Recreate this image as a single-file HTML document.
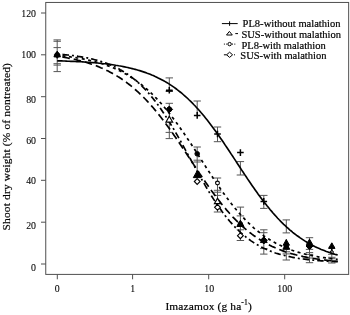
<!DOCTYPE html>
<html><head><meta charset="utf-8"><style>
html,body{margin:0;padding:0;background:#fff;}
svg text{stroke:#000;stroke-width:0.2px;}
svg text.t{stroke-width:0.08px;}
svg{display:block;will-change:transform;opacity:0.999;font-family:"Liberation Serif",serif;fill:#000;}
</style></head><body>
<svg width="350" height="315" viewBox="0 0 350 315">
<rect width="350" height="315" fill="#fff"/>
<defs><filter id="b" x="0" y="0" width="350" height="315" filterUnits="userSpaceOnUse"><feGaussianBlur stdDeviation="0.35"/></filter></defs>
<g filter="url(#b)">
<rect x="45.75" y="2.45" width="302.9" height="271.95" fill="none" stroke="#505050" stroke-width="1"/><line x1="41" y1="13" x2="45.8" y2="13" stroke="#505050" stroke-width="1"/><text x="36" y="16.5" text-anchor="end" font-size="9.9" class="t">120</text><line x1="41" y1="54.8" x2="45.8" y2="54.8" stroke="#505050" stroke-width="1"/><text x="36" y="57.699999999999996" text-anchor="end" font-size="9.9" class="t">100</text><line x1="41" y1="96.7" x2="45.8" y2="96.7" stroke="#505050" stroke-width="1"/><text x="36" y="102.7" text-anchor="end" font-size="9.9" class="t">80</text><line x1="41" y1="138.5" x2="45.8" y2="138.5" stroke="#505050" stroke-width="1"/><text x="36" y="144.3" text-anchor="end" font-size="9.9" class="t">60</text><line x1="41" y1="180.3" x2="45.8" y2="180.3" stroke="#505050" stroke-width="1"/><text x="36" y="184.10000000000002" text-anchor="end" font-size="9.9" class="t">40</text><line x1="41" y1="222.2" x2="45.8" y2="222.2" stroke="#505050" stroke-width="1"/><text x="36" y="228.5" text-anchor="end" font-size="9.9" class="t">20</text><line x1="41" y1="264" x2="45.8" y2="264" stroke="#505050" stroke-width="1"/><text x="36" y="270.7" text-anchor="end" font-size="9.9" class="t">0</text><line x1="57.3" y1="274.4" x2="57.3" y2="279.3" stroke="#505050" stroke-width="1"/><text x="57.3" y="292.3" text-anchor="middle" font-size="9.9" class="t">0</text><line x1="132.6" y1="274.4" x2="132.6" y2="279.3" stroke="#505050" stroke-width="1"/><text x="132.6" y="292.3" text-anchor="middle" font-size="9.9" class="t">1</text><line x1="208.7" y1="274.4" x2="208.7" y2="279.3" stroke="#505050" stroke-width="1"/><text x="209.29999999999998" y="292.3" text-anchor="middle" font-size="9.9" class="t">10</text><line x1="284.7" y1="274.4" x2="284.7" y2="279.3" stroke="#505050" stroke-width="1"/><text x="284.7" y="292.3" text-anchor="middle" font-size="9.9" class="t">100</text><text id="xt" x="165.4" y="309.6" font-size="11.4" letter-spacing="0.14">Imazamox (g ha<tspan dy="-4.4" font-size="7.6">-1</tspan><tspan dy="4.4">)</tspan></text><text id="yt" transform="translate(10.0,230.4) rotate(-90)" font-size="11.4" letter-spacing="0.17">Shoot dry weight (% of nontreated)</text>
<line x1="57.2" y1="39.9" x2="57.2" y2="71.6" stroke="#555" stroke-width="1.0"/><line x1="53.5" y1="39.9" x2="60.900000000000006" y2="39.9" stroke="#555" stroke-width="1.0"/><line x1="53.5" y1="41.3" x2="60.900000000000006" y2="41.3" stroke="#555" stroke-width="1.0"/><line x1="53.5" y1="47.6" x2="60.900000000000006" y2="47.6" stroke="#555" stroke-width="1.0"/><line x1="53.5" y1="63.7" x2="60.900000000000006" y2="63.7" stroke="#555" stroke-width="1.0"/><line x1="53.5" y1="65.1" x2="60.900000000000006" y2="65.1" stroke="#555" stroke-width="1.0"/><line x1="53.5" y1="71.6" x2="60.900000000000006" y2="71.6" stroke="#555" stroke-width="1.0"/><line x1="169.3" y1="77.9" x2="169.3" y2="91.0" stroke="#555" stroke-width="1.0"/><line x1="165.60000000000002" y1="77.9" x2="173.0" y2="77.9" stroke="#555" stroke-width="1.0"/><line x1="165.60000000000002" y1="91.2" x2="173.0" y2="91.2" stroke="#555" stroke-width="1.0"/><line x1="169.3" y1="103.3" x2="169.3" y2="138.6" stroke="#555" stroke-width="1.0"/><line x1="165.60000000000002" y1="103.3" x2="173.0" y2="103.3" stroke="#555" stroke-width="1.0"/><line x1="165.60000000000002" y1="132.4" x2="173.0" y2="132.4" stroke="#555" stroke-width="1.0"/><line x1="165.60000000000002" y1="138.6" x2="173.0" y2="138.6" stroke="#555" stroke-width="1.0"/><line x1="197.2" y1="101" x2="197.2" y2="115" stroke="#555" stroke-width="1.0"/><line x1="193.5" y1="101" x2="200.89999999999998" y2="101" stroke="#555" stroke-width="1.0"/><line x1="197.2" y1="147" x2="197.2" y2="172" stroke="#555" stroke-width="1.0"/><line x1="193.5" y1="147" x2="200.89999999999998" y2="147" stroke="#555" stroke-width="1.0"/><line x1="193.5" y1="160.2" x2="200.89999999999998" y2="160.2" stroke="#555" stroke-width="1.0"/><line x1="193.5" y1="162" x2="200.89999999999998" y2="162" stroke="#555" stroke-width="1.0"/><line x1="217.5" y1="127" x2="217.5" y2="141.7" stroke="#555" stroke-width="1.0"/><line x1="213.8" y1="127" x2="221.2" y2="127" stroke="#555" stroke-width="1.0"/><line x1="213.8" y1="141.7" x2="221.2" y2="141.7" stroke="#555" stroke-width="1.0"/><line x1="217.5" y1="178" x2="217.5" y2="212" stroke="#555" stroke-width="1.0"/><line x1="213.8" y1="178" x2="221.2" y2="178" stroke="#555" stroke-width="1.0"/><line x1="213.8" y1="190.3" x2="221.2" y2="190.3" stroke="#555" stroke-width="1.0"/><line x1="213.8" y1="192.2" x2="221.2" y2="192.2" stroke="#555" stroke-width="1.0"/><line x1="213.8" y1="195.4" x2="221.2" y2="195.4" stroke="#555" stroke-width="1.0"/><line x1="213.8" y1="212" x2="221.2" y2="212" stroke="#555" stroke-width="1.0"/><line x1="240.4" y1="161.6" x2="240.4" y2="175" stroke="#555" stroke-width="1.0"/><line x1="236.70000000000002" y1="161.6" x2="244.1" y2="161.6" stroke="#555" stroke-width="1.0"/><line x1="236.70000000000002" y1="175" x2="244.1" y2="175" stroke="#555" stroke-width="1.0"/><line x1="240.4" y1="207.1" x2="240.4" y2="240.5" stroke="#555" stroke-width="1.0"/><line x1="236.70000000000002" y1="207.1" x2="244.1" y2="207.1" stroke="#555" stroke-width="1.0"/><line x1="236.70000000000002" y1="215.9" x2="244.1" y2="215.9" stroke="#555" stroke-width="1.0"/><line x1="236.70000000000002" y1="229.8" x2="244.1" y2="229.8" stroke="#555" stroke-width="1.0"/><line x1="236.70000000000002" y1="240.5" x2="244.1" y2="240.5" stroke="#555" stroke-width="1.0"/><line x1="263.8" y1="195.4" x2="263.8" y2="208.4" stroke="#555" stroke-width="1.0"/><line x1="260.1" y1="195.4" x2="267.5" y2="195.4" stroke="#555" stroke-width="1.0"/><line x1="260.1" y1="208.4" x2="267.5" y2="208.4" stroke="#555" stroke-width="1.0"/><line x1="263.8" y1="229.8" x2="263.8" y2="254.1" stroke="#555" stroke-width="1.0"/><line x1="260.1" y1="229.8" x2="267.5" y2="229.8" stroke="#555" stroke-width="1.0"/><line x1="260.1" y1="232.7" x2="267.5" y2="232.7" stroke="#555" stroke-width="1.0"/><line x1="260.1" y1="248.6" x2="267.5" y2="248.6" stroke="#555" stroke-width="1.0"/><line x1="260.1" y1="254.1" x2="267.5" y2="254.1" stroke="#555" stroke-width="1.0"/><line x1="286.3" y1="219.9" x2="286.3" y2="232.9" stroke="#555" stroke-width="1.0"/><line x1="282.6" y1="219.9" x2="290.0" y2="219.9" stroke="#555" stroke-width="1.0"/><line x1="282.6" y1="232.9" x2="290.0" y2="232.9" stroke="#555" stroke-width="1.0"/><line x1="286.3" y1="239" x2="286.3" y2="260" stroke="#555" stroke-width="1.0"/><line x1="282.6" y1="251.8" x2="290.0" y2="251.8" stroke="#555" stroke-width="1.0"/><line x1="282.6" y1="253.9" x2="290.0" y2="253.9" stroke="#555" stroke-width="1.0"/><line x1="282.6" y1="260" x2="290.0" y2="260" stroke="#555" stroke-width="1.0"/><line x1="309.5" y1="237.7" x2="309.5" y2="262.7" stroke="#555" stroke-width="1.0"/><line x1="305.8" y1="237.7" x2="313.2" y2="237.7" stroke="#555" stroke-width="1.0"/><line x1="305.8" y1="249.4" x2="313.2" y2="249.4" stroke="#555" stroke-width="1.0"/><line x1="305.8" y1="252.6" x2="313.2" y2="252.6" stroke="#555" stroke-width="1.0"/><line x1="305.8" y1="254.4" x2="313.2" y2="254.4" stroke="#555" stroke-width="1.0"/><line x1="305.8" y1="258" x2="313.2" y2="258" stroke="#555" stroke-width="1.0"/><line x1="305.8" y1="262.7" x2="313.2" y2="262.7" stroke="#555" stroke-width="1.0"/><line x1="331.8" y1="243" x2="331.8" y2="263" stroke="#555" stroke-width="1.0"/><line x1="328.1" y1="254.3" x2="335.5" y2="254.3" stroke="#555" stroke-width="1.0"/><line x1="328.1" y1="257.3" x2="335.5" y2="257.3" stroke="#555" stroke-width="1.0"/><line x1="328.1" y1="258.7" x2="335.5" y2="258.7" stroke="#555" stroke-width="1.0"/><line x1="328.1" y1="260.6" x2="335.5" y2="260.6" stroke="#555" stroke-width="1.0"/><line x1="328.1" y1="263" x2="335.5" y2="263" stroke="#555" stroke-width="1.0"/>

<path d="M57.2,60.8 L58.7,60.8 L60.2,60.9 L61.7,60.9 L63.2,61.0 L64.7,61.0 L66.2,61.1 L67.7,61.2 L69.2,61.2 L70.7,61.3 L72.2,61.3 L73.7,61.4 L75.2,61.5 L76.7,61.6 L78.2,61.6 L79.7,61.7 L81.2,61.8 L82.7,61.9 L84.2,62.0 L85.7,62.1 L87.2,62.2 L88.7,62.3 L90.2,62.4 L91.7,62.5 L93.2,62.6 L94.7,62.8 L96.2,62.9 L97.7,63.0 L99.2,63.2 L100.7,63.3 L102.2,63.5 L103.7,63.7 L105.2,63.8 L106.7,64.0 L108.2,64.2 L109.7,64.4 L111.2,64.6 L112.7,64.8 L114.2,65.0 L115.7,65.3 L117.2,65.5 L118.7,65.8 L120.2,66.0 L121.7,66.3 L123.2,66.6 L124.7,66.9 L126.2,67.2 L127.7,67.5 L129.2,67.9 L130.7,68.2 L132.2,68.6 L133.7,69.0 L135.2,69.4 L136.7,69.8 L138.2,70.2 L139.7,70.6 L141.2,71.1 L142.7,71.6 L144.2,72.1 L145.7,72.6 L147.2,73.2 L148.7,73.7 L150.2,74.3 L151.7,75.0 L153.2,75.6 L154.7,76.3 L156.2,76.9 L157.7,77.7 L159.2,78.4 L160.7,79.2 L162.2,80.0 L163.7,80.8 L165.2,81.6 L166.7,82.5 L168.2,83.4 L169.7,84.4 L171.2,85.4 L172.7,86.4 L174.2,87.4 L175.7,88.5 L177.2,89.7 L178.7,90.8 L180.2,92.0 L181.7,93.2 L183.2,94.5 L184.7,95.8 L186.2,97.2 L187.7,98.5 L189.2,100.0 L190.7,101.4 L192.2,102.9 L193.7,104.5 L195.2,106.0 L196.7,107.7 L198.2,109.3 L199.7,111.0 L201.2,112.8 L202.7,114.5 L204.2,116.3 L205.7,118.2 L207.2,120.1 L208.7,122.0 L210.2,123.9 L211.7,125.9 L213.2,127.9 L214.7,130.0 L216.2,132.1 L217.7,134.2 L219.2,136.3 L220.7,138.5 L222.2,140.6 L223.7,142.8 L225.2,145.1 L226.7,147.3 L228.2,149.5 L229.7,151.8 L231.2,154.1 L232.7,156.3 L234.2,158.6 L235.7,160.9 L237.2,163.2 L238.7,165.5 L240.2,167.8 L241.7,170.1 L243.2,172.3 L244.7,174.6 L246.2,176.8 L247.7,179.1 L249.2,181.3 L250.7,183.5 L252.2,185.7 L253.7,187.8 L255.2,190.0 L256.7,192.1 L258.2,194.2 L259.7,196.2 L261.2,198.2 L262.7,200.2 L264.2,202.2 L265.7,204.1 L267.2,206.0 L268.7,207.8 L270.2,209.7 L271.7,211.4 L273.2,213.2 L274.7,214.9 L276.2,216.5 L277.7,218.2 L279.2,219.8 L280.7,221.3 L282.2,222.8 L283.7,224.3 L285.2,225.7 L286.7,227.1 L288.2,228.4 L289.7,229.8 L291.2,231.0 L292.7,232.3 L294.2,233.5 L295.7,234.6 L297.2,235.8 L298.7,236.8 L300.2,237.9 L301.7,238.9 L303.2,239.9 L304.7,240.9 L306.2,241.8 L307.7,242.7 L309.2,243.5 L310.7,244.4 L312.2,245.2 L313.7,245.9 L315.2,246.7 L316.7,247.4 L318.2,248.1 L319.7,248.7 L321.2,249.4 L322.7,250.0 L324.2,250.6 L325.7,251.2 L327.2,251.7 L328.7,252.2 L330.2,252.8 L331.7,253.2 L333.2,253.7 L334.7,254.2 L336.2,254.6 L337.7,255.0" fill="none" stroke="#000" stroke-width="1.65"/>
<path d="M57.2,56.2 L58.7,56.4 L60.2,56.7 L61.7,56.9 L63.2,57.2 L64.7,57.4 L66.2,57.7 L67.7,58.0 L69.2,58.3 L70.7,58.6 L72.2,58.9 L73.7,59.2 L75.2,59.5 L76.7,59.9 L78.2,60.3 L79.7,60.6 L81.2,61.0 L82.7,61.4 L84.2,61.9 L85.7,62.3 L87.2,62.7 L88.7,63.2 L90.2,63.7 L91.7,64.2 L93.2,64.7 L94.7,65.3 L96.2,65.8 L97.7,66.4 L99.2,67.0 L100.7,67.7 L102.2,68.3 L103.7,69.0 L105.2,69.7 L106.7,70.4 L108.2,71.1 L109.7,71.9 L111.2,72.7 L112.7,73.5 L114.2,74.4 L115.7,75.2 L117.2,76.1 L118.7,77.1 L120.2,78.0 L121.7,79.0 L123.2,80.1 L124.7,81.1 L126.2,82.2 L127.7,83.3 L129.2,84.5 L130.7,85.7 L132.2,86.9 L133.7,88.2 L135.2,89.5 L136.7,90.8 L138.2,92.2 L139.7,93.6 L141.2,95.0 L142.7,96.5 L144.2,98.0 L145.7,99.5 L147.2,101.1 L148.7,102.7 L150.2,104.4 L151.7,106.1 L153.2,107.8 L154.7,109.6 L156.2,111.4 L157.7,113.2 L159.2,115.1 L160.7,117.0 L162.2,118.9 L163.7,120.9 L165.2,122.9 L166.7,124.9 L168.2,127.0 L169.7,129.0 L171.2,131.1 L172.7,133.3 L174.2,135.4 L175.7,137.6 L177.2,139.8 L178.7,142.0 L180.2,144.2 L181.7,146.4 L183.2,148.7 L184.7,150.9 L186.2,153.2 L187.7,155.5 L189.2,157.7 L190.7,160.0 L192.2,162.3 L193.7,164.6 L195.2,166.8 L196.7,169.1 L198.2,171.3 L199.7,173.6 L201.2,175.8 L202.7,178.0 L204.2,180.2 L205.7,182.4 L207.2,184.6 L208.7,186.7 L210.2,188.8 L211.7,190.9 L213.2,192.9 L214.7,195.0 L216.2,197.0 L217.7,198.9 L219.2,200.9 L220.7,202.8 L222.2,204.7 L223.7,206.5 L225.2,208.3 L226.7,210.1 L228.2,211.8 L229.7,213.5 L231.2,215.1 L232.7,216.8 L234.2,218.3 L235.7,219.9 L237.2,221.4 L238.7,222.9 L240.2,224.3 L241.7,225.7 L243.2,227.0 L244.7,228.3 L246.2,229.6 L247.7,230.9 L249.2,232.1 L250.7,233.2 L252.2,234.4 L253.7,235.5 L255.2,236.5 L256.7,237.6 L258.2,238.6 L259.7,239.5 L261.2,240.5 L262.7,241.4 L264.2,242.2 L265.7,243.1 L267.2,243.9 L268.7,244.7 L270.2,245.4 L271.7,246.2 L273.2,246.9 L274.7,247.5 L276.2,248.2 L277.7,248.8 L279.2,249.4 L280.7,250.0 L282.2,250.6 L283.7,251.1 L285.2,251.7 L286.7,252.2 L288.2,252.6 L289.7,253.1 L291.2,253.6 L292.7,254.0 L294.2,254.4 L295.7,254.8 L297.2,255.2 L298.7,255.5 L300.2,255.9 L301.7,256.2 L303.2,256.6 L304.7,256.9 L306.2,257.2 L307.7,257.5 L309.2,257.7 L310.7,258.0 L312.2,258.3 L313.7,258.5 L315.2,258.7 L316.7,259.0 L318.2,259.2 L319.7,259.4 L321.2,259.6 L322.7,259.8 L324.2,260.0 L325.7,260.1 L327.2,260.3 L328.7,260.5 L330.2,260.6 L331.7,260.8 L333.2,260.9 L334.7,261.0 L336.2,261.2 L337.7,261.3" fill="none" stroke="#000" stroke-width="1.7" stroke-dasharray="7.5 4" stroke-dashoffset="6.2"/>
<path d="M57.2,55.2 L58.7,55.4 L60.2,55.5 L61.7,55.7 L63.2,55.9 L64.7,56.1 L66.2,56.3 L67.7,56.4 L69.2,56.6 L70.7,56.9 L72.2,57.1 L73.7,57.3 L75.2,57.5 L76.7,57.8 L78.2,58.0 L79.7,58.3 L81.2,58.6 L82.7,58.9 L84.2,59.2 L85.7,59.5 L87.2,59.8 L88.7,60.2 L90.2,60.5 L91.7,60.9 L93.2,61.2 L94.7,61.6 L96.2,62.0 L97.7,62.5 L99.2,62.9 L100.7,63.4 L102.2,63.8 L103.7,64.3 L105.2,64.8 L106.7,65.4 L108.2,65.9 L109.7,66.5 L111.2,67.1 L112.7,67.7 L114.2,68.3 L115.7,69.0 L117.2,69.7 L118.7,70.4 L120.2,71.1 L121.7,71.9 L123.2,72.7 L124.7,73.5 L126.2,74.3 L127.7,75.2 L129.2,76.1 L130.7,77.1 L132.2,78.0 L133.7,79.0 L135.2,80.0 L136.7,81.1 L138.2,82.2 L139.7,83.3 L141.2,84.5 L142.7,85.7 L144.2,86.9 L145.7,88.2 L147.2,89.5 L148.7,90.9 L150.2,92.2 L151.7,93.7 L153.2,95.1 L154.7,96.6 L156.2,98.2 L157.7,99.8 L159.2,101.4 L160.7,103.0 L162.2,104.7 L163.7,106.5 L165.2,108.2 L166.7,110.1 L168.2,111.9 L169.7,113.8 L171.2,115.7 L172.7,117.7 L174.2,119.7 L175.7,121.7 L177.2,123.7 L178.7,125.8 L180.2,127.9 L181.7,130.1 L183.2,132.2 L184.7,134.4 L186.2,136.7 L187.7,138.9 L189.2,141.1 L190.7,143.4 L192.2,145.7 L193.7,148.0 L195.2,150.3 L196.7,152.7 L198.2,155.0 L199.7,157.3 L201.2,159.7 L202.7,162.0 L204.2,164.3 L205.7,166.7 L207.2,169.0 L208.7,171.3 L210.2,173.6 L211.7,175.9 L213.2,178.2 L214.7,180.4 L216.2,182.6 L217.7,184.8 L219.2,187.0 L220.7,189.2 L222.2,191.3 L223.7,193.4 L225.2,195.5 L226.7,197.5 L228.2,199.5 L229.7,201.5 L231.2,203.5 L232.7,205.3 L234.2,207.2 L235.7,209.0 L237.2,210.8 L238.7,212.6 L240.2,214.3 L241.7,215.9 L243.2,217.5 L244.7,219.1 L246.2,220.7 L247.7,222.2 L249.2,223.6 L250.7,225.0 L252.2,226.4 L253.7,227.8 L255.2,229.1 L256.7,230.3 L258.2,231.5 L259.7,232.7 L261.2,233.9 L262.7,235.0 L264.2,236.1 L265.7,237.1 L267.2,238.1 L268.7,239.1 L270.2,240.0 L271.7,240.9 L273.2,241.8 L274.7,242.6 L276.2,243.4 L277.7,244.2 L279.2,244.9 L280.7,245.6 L282.2,246.3 L283.7,247.0 L285.2,247.7 L286.7,248.3 L288.2,248.9 L289.7,249.4 L291.2,250.0 L292.7,250.5 L294.2,251.0 L295.7,251.5 L297.2,252.0 L298.7,252.4 L300.2,252.8 L301.7,253.3 L303.2,253.7 L304.7,254.0 L306.2,254.4 L307.7,254.7 L309.2,255.1 L310.7,255.4 L312.2,255.7 L313.7,256.0 L315.2,256.3 L316.7,256.5 L318.2,256.8 L319.7,257.1 L321.2,257.3 L322.7,257.5 L324.2,257.7 L325.7,257.9 L327.2,258.1 L328.7,258.3 L330.2,258.5 L331.7,258.7 L333.2,258.8 L334.7,259.0 L336.2,259.2 L337.7,259.3" fill="none" stroke="#000" stroke-width="1.7" stroke-dasharray="3 3.5" stroke-dashoffset="1.2"/>
<path d="M57.2,54.0 L58.7,54.2 L60.2,54.3 L61.7,54.4 L63.2,54.5 L64.7,54.7 L66.2,54.8 L67.7,55.0 L69.2,55.2 L70.7,55.3 L72.2,55.5 L73.7,55.7 L75.2,55.9 L76.7,56.1 L78.2,56.4 L79.7,56.6 L81.2,56.8 L82.7,57.1 L84.2,57.4 L85.7,57.7 L87.2,57.9 L88.7,58.3 L90.2,58.6 L91.7,58.9 L93.2,59.3 L94.7,59.7 L96.2,60.1 L97.7,60.5 L99.2,60.9 L100.7,61.4 L102.2,61.9 L103.7,62.4 L105.2,62.9 L106.7,63.4 L108.2,64.0 L109.7,64.6 L111.2,65.2 L112.7,65.9 L114.2,66.6 L115.7,67.3 L117.2,68.1 L118.7,68.8 L120.2,69.7 L121.7,70.5 L123.2,71.4 L124.7,72.3 L126.2,73.3 L127.7,74.3 L129.2,75.4 L130.7,76.5 L132.2,77.6 L133.7,78.8 L135.2,80.0 L136.7,81.3 L138.2,82.6 L139.7,84.0 L141.2,85.4 L142.7,86.9 L144.2,88.4 L145.7,90.0 L147.2,91.6 L148.7,93.3 L150.2,95.1 L151.7,96.9 L153.2,98.7 L154.7,100.6 L156.2,102.6 L157.7,104.6 L159.2,106.7 L160.7,108.8 L162.2,111.0 L163.7,113.2 L165.2,115.5 L166.7,117.8 L168.2,120.1 L169.7,122.6 L171.2,125.0 L172.7,127.5 L174.2,130.0 L175.7,132.6 L177.2,135.2 L178.7,137.8 L180.2,140.5 L181.7,143.2 L183.2,145.9 L184.7,148.6 L186.2,151.3 L187.7,154.1 L189.2,156.8 L190.7,159.5 L192.2,162.3 L193.7,165.0 L195.2,167.8 L196.7,170.5 L198.2,173.2 L199.7,175.9 L201.2,178.5 L202.7,181.1 L204.2,183.7 L205.7,186.3 L207.2,188.8 L208.7,191.3 L210.2,193.8 L211.7,196.2 L213.2,198.6 L214.7,200.9 L216.2,203.1 L217.7,205.4 L219.2,207.5 L220.7,209.6 L222.2,211.7 L223.7,213.7 L225.2,215.7 L226.7,217.6 L228.2,219.4 L229.7,221.2 L231.2,222.9 L232.7,224.6 L234.2,226.2 L235.7,227.8 L237.2,229.3 L238.7,230.7 L240.2,232.1 L241.7,233.5 L243.2,234.8 L244.7,236.0 L246.2,237.3 L247.7,238.4 L249.2,239.5 L250.7,240.6 L252.2,241.6 L253.7,242.6 L255.2,243.6 L256.7,244.5 L258.2,245.3 L259.7,246.2 L261.2,246.9 L262.7,247.7 L264.2,248.4 L265.7,249.1 L267.2,249.8 L268.7,250.4 L270.2,251.0 L271.7,251.6 L273.2,252.1 L274.7,252.7 L276.2,253.2 L277.7,253.6 L279.2,254.1 L280.7,254.5 L282.2,254.9 L283.7,255.3 L285.2,255.7 L286.7,256.1 L288.2,256.4 L289.7,256.7 L291.2,257.0 L292.7,257.3 L294.2,257.6 L295.7,257.9 L297.2,258.1 L298.7,258.4 L300.2,258.6 L301.7,258.8 L303.2,259.0 L304.7,259.2 L306.2,259.4 L307.7,259.6 L309.2,259.7 L310.7,259.9 L312.2,260.0 L313.7,260.2 L315.2,260.3 L316.7,260.4 L318.2,260.6 L319.7,260.7 L321.2,260.8 L322.7,260.9 L324.2,261.0 L325.7,261.1 L327.2,261.2 L328.7,261.3 L330.2,261.4 L331.7,261.4 L333.2,261.5 L334.7,261.6 L336.2,261.6 L337.7,261.7" fill="none" stroke="#000" stroke-width="1.7" stroke-dasharray="6.5 3 2 3" stroke-dashoffset="9.2"/>

<circle cx="57.2" cy="54.9" r="2.4" stroke="#000" stroke-width="1" fill="#000"/><path d="M57.2,51.1L60.5,56.875H53.900000000000006Z" stroke="#000" stroke-width="1" fill="#000"/><path d="M53.900000000000006,55.2H60.5M57.2,51.900000000000006V58.5" stroke="#000" stroke-width="1.3" fill="none"/><path d="M166.0,90.3H172.60000000000002M169.3,87.0V93.6" stroke="#000" stroke-width="1.5" fill="none"/><path d="M165.9,91.1H172.70000000000002" stroke="#000" stroke-width="1.3"/><circle cx="169.3" cy="109.4" r="2.4" stroke="#000" stroke-width="1" fill="#000"/><path d="M169.3,106.10000000000001L172.60000000000002,109.4L169.3,112.7L166.0,109.4Z" stroke="#000" stroke-width="1" fill="#000"/><path d="M169.3,116.3L172.60000000000002,122.07499999999999H166.0Z" stroke="#000" stroke-width="1.2" fill="#fff"/><path d="M193.89999999999998,115.4H200.5M197.2,112.10000000000001V118.7" stroke="#000" stroke-width="1.5" fill="none"/><circle cx="197.2" cy="153.8" r="2.3" stroke="#000" stroke-width="1" fill="#000"/><path d="M197.2,170.79999999999998L201.1,177.625H193.29999999999998Z" stroke="#000" stroke-width="1" fill="#000"/><path d="M197.2,178.6L200.1,181.5L197.2,184.4L194.29999999999998,181.5Z" stroke="#000" stroke-width="1.1" fill="#fff"/><path d="M214.2,134H220.8M217.5,130.7V137.3" stroke="#000" stroke-width="1.5" fill="none"/><circle cx="217.5" cy="183" r="1.9" stroke="#000" stroke-width="1.1" fill="#fff"/><path d="M217.5,198.20000000000002L220.6,203.625H214.4Z" stroke="#000" stroke-width="1.1" fill="#fff"/><path d="M217.5,204.4L220.4,207.3L217.5,210.20000000000002L214.6,207.3Z" stroke="#000" stroke-width="1.1" fill="#fff"/><path d="M237.1,152.6H243.70000000000002M240.4,149.29999999999998V155.9" stroke="#000" stroke-width="1.5" fill="none"/><circle cx="240.4" cy="224.2" r="2.3" stroke="#000" stroke-width="1" fill="#000"/><path d="M240.4,220.20000000000002L244.0,226.5H236.8Z" stroke="#000" stroke-width="1" fill="#000"/><path d="M240.4,232.79999999999998L243.3,235.7L240.4,238.6L237.5,235.7Z" stroke="#000" stroke-width="1.1" fill="#fff"/><path d="M260.5,201.4H267.1M263.8,198.1V204.70000000000002" stroke="#000" stroke-width="1.5" fill="none"/><circle cx="263.8" cy="240.6" r="2.5" stroke="#000" stroke-width="1" fill="#000"/><path d="M263.8,236.6L267.2,242.55H260.40000000000003Z" stroke="#000" stroke-width="1" fill="#000"/><path d="M263.8,237.0L267.2,240.4L263.8,243.8L260.40000000000003,240.4Z" stroke="#000" stroke-width="1" fill="#000"/><circle cx="286.3" cy="246.4" r="2.2" stroke="#000" stroke-width="1" fill="#000"/><path d="M286.3,239.60000000000002L289.5,245.20000000000002H283.1Z" stroke="#000" stroke-width="1" fill="#000"/><path d="M286.3,243.2L289.8,249.325H282.8Z" stroke="#000" stroke-width="1" fill="#000"/><circle cx="309.5" cy="246" r="2.6" stroke="#000" stroke-width="1" fill="#000"/><path d="M309.5,242.5L313.0,246L309.5,249.5L306.0,246Z" stroke="#000" stroke-width="1" fill="#000"/><path d="M309.5,239.1L312.6,244.52499999999998H306.4Z" stroke="#000" stroke-width="1" fill="#000"/><path d="M331.8,242.8L335.0,248.4H328.6Z" stroke="#000" stroke-width="1" fill="#000"/><path d="M328.8,247.5H334.8M331.8,244.5V250.5" stroke="#000" stroke-width="1.5" fill="none"/><circle cx="331.8" cy="252.2" r="1.6" stroke="#000" stroke-width="1.0" fill="none"/>

<path d="M221.9,23.6H237.7M229.6,21.3V25.8" stroke="#000" stroke-width="1" fill="none"/>
<text id="l1" x="242.6" y="26.6" font-size="10.52">PL8-without malathion</text>
<path d="M235.3,33.6H238" stroke="#000" stroke-width="1" fill="none"/>
<path d="M229.4,31.4L232.3,35H226.5Z" stroke="#000" stroke-width="1" fill="none"/>
<text id="l2" x="241.4" y="37.5" font-size="10.52">SUS-without malathion</text>
<path d="M223.9,44.1H227.4M232,44.1H235.8" stroke="#000" stroke-width="1" stroke-dasharray="1 1.3" fill="none"/>
<circle cx="229.6" cy="44.1" r="1.7" stroke="#000" stroke-width="1" fill="none"/>
<text id="l3" x="241.4" y="48.5" font-size="10.52">PL8-with malathion</text>
<path d="M223.9,54.8H226.6M234,54.8H235" stroke="#000" stroke-width="1" fill="none"/>
<path d="M229.6,52.2L232.6,54.8L229.6,57.4L226.6,54.8Z" stroke="#000" stroke-width="1" fill="none"/>
<text id="l4" x="240.3" y="59.2" font-size="10.52">SUS-with malathion</text>

</g>
</svg>
</body></html>
